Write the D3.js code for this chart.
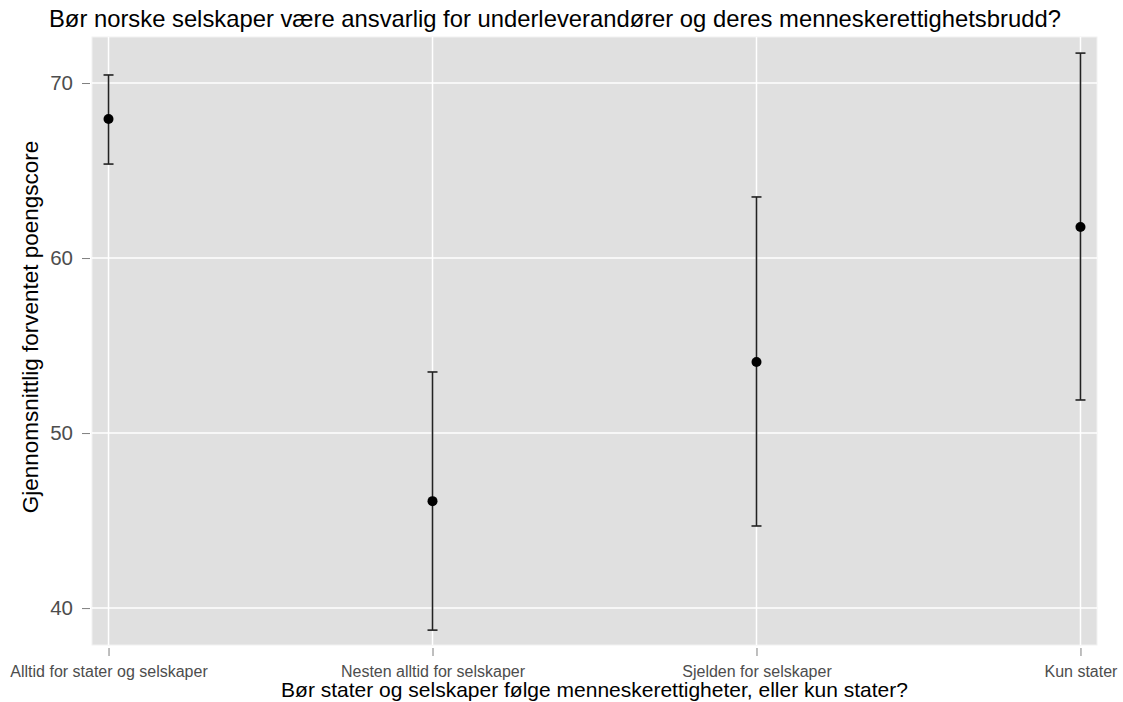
<!DOCTYPE html>
<html>
<head>
<meta charset="utf-8">
<script src="https://cdn.jsdelivr.net/npm/d3@7"></script>
<style>
  body { margin: 0; background: #fff; }
  text { font-family: "Liberation Sans", Arial, sans-serif; }
</style>
</head>
<body>
<svg id="chart"></svg>
<script>
// data
const categories = ["Alltid for stater og selskaper", "Nesten alltid for selskaper", "Sjelden for selskaper", "Kun stater"];
const means = [67.94, 46.11, 54.06, 61.77];
const lower = [65.37, 38.74, 44.69, 51.89];
const upper = [70.46, 53.49, 63.49, 71.71];
const yTicks = [40, 50, 60, 70];

const W = 1123, H = 702;
const margin = { top: 37, right: 26, bottom: 57, left: 92 },
      width = W - margin.left - margin.right,
      height = H - margin.top - margin.bottom;

const svg = d3.select("#chart").attr("width", W).attr("height", H);
const g = svg.append("g").attr("transform", `translate(${margin.left},${margin.top})`);

const x = d3.scalePoint()
            .domain(categories)
            .range([0, width])
            .padding(0.051);

const y = d3.scaleLinear()
            .domain([37.89, 72.63])
            .range([height, 0]);

// panel
g.append("rect")
 .attr("width", width).attr("height", height)
 .attr("fill", "#e0e0e0")
 .attr("stroke", "#f2f2f2").attr("stroke-width", 1);

// grid lines
g.selectAll(".hgrid").data(yTicks).enter().append("line")
 .attr("x1", 0).attr("x2", width)
 .attr("y1", d => y(d)).attr("y2", d => y(d))
 .attr("stroke", "#fff").attr("stroke-width", 1.5);

g.selectAll(".vgrid").data(categories).enter().append("line")
 .attr("x1", d => x(d)).attr("x2", d => x(d))
 .attr("y1", 0).attr("y2", height)
 .attr("stroke", "#fff").attr("stroke-width", 1.5);

// y axis
const yAxis = g.append("g")
   .call(d3.axisLeft(y).tickValues(yTicks).tickSize(8).tickPadding(9));
yAxis.select(".domain").remove();
yAxis.selectAll("line").attr("stroke", "#7f7f7f").attr("transform", "translate(-2,0)");
yAxis.selectAll("text").attr("font-size", 20.5).attr("fill", "#4d4d4d")
     .attr("font-family", "Liberation Sans, Arial, sans-serif").attr("dx", -2);

// x axis
const xAxis = g.append("g")
   .attr("transform", `translate(0,${height})`)
   .call(d3.axisBottom(x).tickSize(8).tickPadding(13));
xAxis.select(".domain").remove();
xAxis.selectAll("line").attr("stroke", "#7f7f7f").attr("transform", "translate(0,3)");
xAxis.selectAll("text").attr("font-size", 16).attr("fill", "#4d4d4d")
     .attr("font-family", "Liberation Sans, Arial, sans-serif");

// error bars
const rows = categories.map((c, i) => ({ c, m: means[i], lo: lower[i], hi: upper[i] }));
const capW = 5;

g.selectAll(".err").data(rows).enter().append("line")
 .attr("x1", d => x(d.c)).attr("x2", d => x(d.c))
 .attr("y1", d => y(d.lo)).attr("y2", d => y(d.hi))
 .attr("stroke", "#222").attr("stroke-width", 1.6);

g.selectAll(".capHi").data(rows).enter().append("line")
 .attr("x1", d => x(d.c) - capW).attr("x2", d => x(d.c) + capW)
 .attr("y1", d => y(d.hi)).attr("y2", d => y(d.hi))
 .attr("stroke", "#222").attr("stroke-width", 1.6);

g.selectAll(".capLo").data(rows).enter().append("line")
 .attr("x1", d => x(d.c) - capW).attr("x2", d => x(d.c) + capW)
 .attr("y1", d => y(d.lo)).attr("y2", d => y(d.lo))
 .attr("stroke", "#222").attr("stroke-width", 1.6);

g.selectAll(".pt").data(rows).enter().append("circle")
 .attr("cx", d => x(d.c)).attr("cy", d => y(d.m))
 .attr("r", 5).attr("fill", "#000");

// titles
svg.append("text")
   .attr("x", 49).attr("y", 27)
   .attr("font-size", 23.8).attr("fill", "#000")
   .text("Bør norske selskaper være ansvarlig for underleverandører og deres menneskerettighetsbrudd?");

svg.append("text")
   .attr("x", margin.left + width / 2).attr("y", 697)
   .attr("text-anchor", "middle")
   .attr("font-size", 21).attr("fill", "#000")
   .text("Bør stater og selskaper følge menneskerettigheter, eller kun stater?");

svg.append("text")
   .attr("transform", `translate(38,327) rotate(-90)`)
   .attr("text-anchor", "middle")
   .attr("font-size", 22.5).attr("fill", "#000")
   .text("Gjennomsnittlig forventet poengscore");
</script>
</body>
</html>
